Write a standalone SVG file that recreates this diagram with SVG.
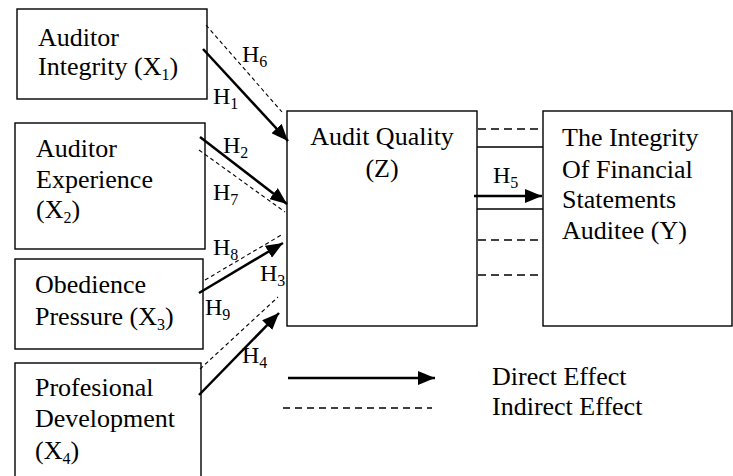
<svg xmlns="http://www.w3.org/2000/svg" width="733" height="476" viewBox="0 0 733 476">
<style>
.box{fill:#fff;stroke:#000;stroke-width:1.4}
text{font-family:'Liberation Serif','DejaVu Serif','Times New Roman',serif;fill:#000}
.t{font-size:26px}
.h{font-size:24px}
.sub{font-size:16px}
.d{stroke:#000;stroke-width:2.5;fill:none}
.i{stroke:#000;stroke-width:1.1;stroke-dasharray:4 3;fill:none}
.ih{stroke:#000;stroke-width:1.3;stroke-dasharray:8 5;fill:none}
.s{stroke:#000;stroke-width:1.6;fill:none}
</style>
<defs>
<marker id="ah" markerUnits="userSpaceOnUse" markerWidth="18" markerHeight="14" refX="17" refY="7" orient="auto">
<path d="M0,0 L17,7 L0,14 z" fill="#000"/>
</marker>
</defs>
<rect width="733" height="476" fill="#fff"/>
<g id="x1"><rect class="box" x="17" y="9" width="190" height="90"/>
<text class="t" x="38" y="46">Auditor</text>
<text class="t" x="38" y="75">Integrity (X<tspan class="sub" dy="5">1</tspan><tspan dy="-5">)</tspan></text></g>
<g id="x2"><rect class="box" x="15" y="123" width="190" height="126"/>
<text class="t" x="36" y="157">Auditor</text>
<text class="t" x="36" y="188">Experience</text>
<text class="t" x="36" y="218">(X<tspan class="sub" dy="5">2</tspan><tspan dy="-5">)</tspan></text></g>
<g id="x3"><rect class="box" x="15" y="259" width="188" height="90"/>
<text class="t" x="35" y="293">Obedience</text>
<text class="t" x="35" y="325">Pressure (X<tspan class="sub" dy="5">3</tspan><tspan dy="-5">)</tspan></text></g>
<g id="x4"><rect class="box" x="15" y="363" width="186" height="130"/>
<text class="t" x="35" y="396">Profesional</text>
<text class="t" x="35" y="427">Development</text>
<text class="t" x="35" y="459">(X<tspan class="sub" dy="5">4</tspan><tspan dy="-5">)</tspan></text></g>
<g id="z"><rect class="box" x="287" y="111" width="190" height="215"/>
<text class="t" x="382" y="145" text-anchor="middle">Audit Quality</text>
<text class="t" x="382" y="177" text-anchor="middle">(Z)</text></g>
<g id="y"><rect class="box" x="543" y="111" width="189" height="215"/>
<text class="t" x="562" y="146">The Integrity</text>
<text class="t" x="562" y="178">Of Financial</text>
<text class="t" x="562" y="208">Statements</text>
<text class="t" x="562" y="239">Auditee (Y)</text></g>
<g id="connectors">
<line class="i" x1="206" y1="25" x2="282" y2="112"/>
<line class="d" x1="203" y1="49" x2="288" y2="141" marker-end="url(#ah)"/>
<line class="d" x1="200" y1="137" x2="287" y2="204" marker-end="url(#ah)"/>
<line class="i" x1="199" y1="150" x2="285" y2="212"/>
<line class="i" x1="205" y1="280" x2="283" y2="234"/>
<line class="d" x1="199" y1="293" x2="283" y2="243" marker-end="url(#ah)"/>
<line class="i" x1="200" y1="369" x2="278" y2="297"/>
<line class="d" x1="199" y1="395" x2="279" y2="313" marker-end="url(#ah)"/>
<line class="ih" x1="478" y1="129" x2="542" y2="129"/>
<line class="s" x1="477" y1="147" x2="543" y2="147"/>
<line class="d" x1="474" y1="196" x2="542" y2="196" marker-end="url(#ah)"/>
<line class="s" x1="477" y1="209" x2="543" y2="209"/>
<line class="ih" x1="478" y1="240" x2="542" y2="240"/>
<line class="ih" x1="478" y1="275" x2="542" y2="275"/>
</g>
<g id="labels">
<text class="h" x="242" y="62">H<tspan class="sub" dy="5">6</tspan></text>
<text class="h" x="213" y="104">H<tspan class="sub" dy="5">1</tspan></text>
<text class="h" x="223" y="153">H<tspan class="sub" dy="5">2</tspan></text>
<text class="h" x="213" y="200">H<tspan class="sub" dy="5">7</tspan></text>
<text class="h" x="213" y="255">H<tspan class="sub" dy="5">8</tspan></text>
<text class="h" x="260" y="281">H<tspan class="sub" dy="5">3</tspan></text>
<text class="h" x="205" y="315">H<tspan class="sub" dy="5">9</tspan></text>
<text class="h" x="242" y="363">H<tspan class="sub" dy="5">4</tspan></text>
<text class="h" x="493" y="183">H<tspan class="sub" dy="5">5</tspan></text>
</g>
<g id="legend">
<line class="d" x1="288" y1="378" x2="435" y2="378" marker-end="url(#ah)"/>
<line stroke="#000" stroke-width="1.4" stroke-dasharray="7 5" x1="283" y1="408" x2="432" y2="408"/>
<text class="t" x="492" y="385">Direct Effect</text>
<text class="t" x="492" y="415">Indirect Effect</text>
</g>
</svg>
